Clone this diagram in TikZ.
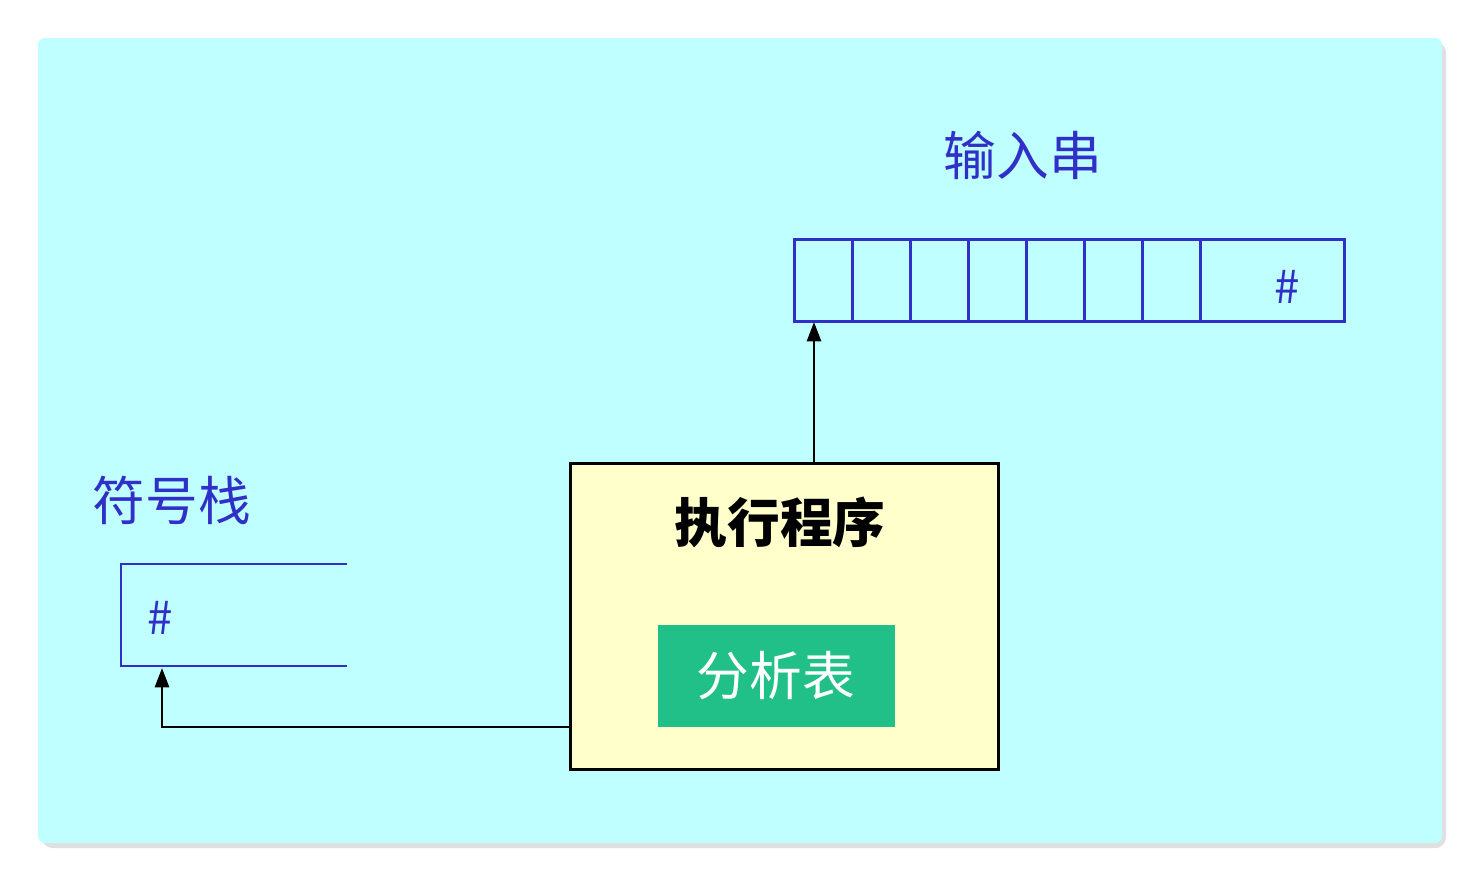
\documentclass[tikz,border=0pt]{standalone}
\usepackage{fontspec}
\setmainfont{Noto Sans CJK SC}
\usetikzlibrary{arrows.meta}
\definecolor{bgcyan}{HTML}{C0FFFF}
\definecolor{lblue}{HTML}{3030C8}
\definecolor{execfill}{HTML}{FFFFCC}
\definecolor{tblgreen}{HTML}{20C088}
\newlength\pxu \setlength\pxu{0.02cm}
\tikzset{
  cell/.style={draw=lblue,line width=1.5pt,minimum width=58\pxu,minimum height=82\pxu,inner sep=0pt},
  title/.style={text=lblue,font=\fontsize{30}{36}\selectfont},
  link/.style={line width=1.5pt,-{Triangle[length=11pt,width=8pt]}}
}
\begin{document}
\begin{tikzpicture}[x=0.02cm,y=-0.02cm]
\useasboundingbox (0,0) rectangle (1478,880);
% background
\fill[black!12,rounded corners=6pt] (42,42) rectangle (1446,848);
\fill[bgcyan,rounded corners=4pt] (38,38) rectangle (1442,843);
% input string
\node[title] (inlbl) at (1023,155) {输入串};
\foreach \i in {0,...,6}
  \node[cell,anchor=north west] (c\i) at (793+58*\i,238) {};
\node[cell,anchor=north west,minimum width=144\pxu] (clast) at (1199,238) {};
\node[text=lblue,font=\fontsize{26}{30}\selectfont] (hashin) at (1287,287) {\#};
\coordinate (inptr) at (814,322);
% symbol stack
\node[title] (stlbl) at (172,500) {符号栈};
\draw[lblue,line width=1.5pt] (347,564) -- (121,564) -- (121,666) -- (347,666);
\node[text=lblue,font=\fontsize{26}{30}\selectfont] (hashst) at (160,618) {\#};
\coordinate (stbot) at (162,668);
% executor
\node[draw,line width=1.5pt,fill=execfill,minimum width=428\pxu,minimum height=306\pxu,anchor=north west] (exec) at (569,462) {};
\node[font=\fontsize{30}{36}\selectfont\bfseries] (exlbl) at (780,522) {执行程序};
\node[fill=tblgreen,text=white,minimum width=237\pxu,minimum height=102\pxu,font=\fontsize{30}{36}\selectfont] (table) at (776,676) {分析表};
% connectors
\draw[link] (exec.north -| inptr) -- (inptr);
\draw[link] (exec.west |- 0,727) -- (162,727) -- (stbot);
\end{tikzpicture}
\end{document}
